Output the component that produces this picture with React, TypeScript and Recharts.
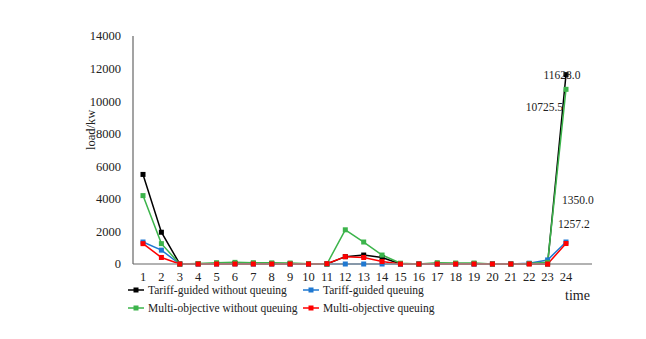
import React from 'react';
import { LineChart, Line, XAxis, YAxis, LabelList } from 'recharts';

const hours = ['1','2','3','4','5','6','7','8','9','10','11','12','13','14','15','16','17','18','19','20','21','22','23','24'];
const tariffNoQueue = [5500, 1950, 0, 10, 20, 30, 20, 20, 10, 0, 0, 450, 550, 400, 0, 0, 10, 10, 10, 0, 0, 20, 0, 11628.0];
const tariffQueue = [1350, 850, 0, 0, 0, 0, 0, 0, 0, 0, 0, 0, 0, 0, 0, 0, 0, 0, 0, 0, 0, 50, 250, 1350.0];
const multiNoQueue = [4200, 1250, 0, 30, 80, 100, 80, 70, 60, 20, 0, 2100, 1350, 550, 50, 0, 80, 60, 60, 0, 0, 30, 100, 10725.5];
const multiQueue = [1250, 400, 0, 0, 0, 0, 0, 0, 0, 0, 20, 450, 400, 150, 0, 0, 0, 0, 0, 0, 0, 0, 0, 1257.2];
const yTicks = [0, 2000, 4000, 6000, 8000, 10000, 12000, 14000];

const seriesNames = ['Tariff-guided without queuing', 'Tariff-guided queuing', 'Multi-objective without queuing', 'Multi-objective queuing'];
const colors = ['#000000', '#1f78d1', '#3cb44b', '#ff0000'];

const data = hours.map((h, i) => ({
  hour: h,
  a: tariffNoQueue[i],
  b: tariffQueue[i],
  c: multiNoQueue[i],
  d: multiQueue[i],
}));

const FONT = '"Liberation Serif", "Times New Roman", serif';

const squareDot = (color: string) => (props: any) => {
  const { cx, cy, index } = props;
  if (cx == null || cy == null) return <g key={index} />;
  return <rect key={index} x={cx - 2.5} y={cy - 2.5} width={5} height={5} fill={color} />;
};

const lastLabel = (dx: number, dy: number, anchor: string) => (props: any) => {
  const { x, y, value, index } = props;
  if (index !== 23) return null;
  return (
    <text x={x + dx} y={y + dy} textAnchor={anchor as any} fontFamily={FONT} fontSize={11.5} fill="#222">
      {Number(value).toFixed(1)}
    </text>
  );
};

const LegendItem = ({ color, name, left, top }: any) => (
  <div style={{ position: 'absolute', left, top, display: 'flex', alignItems: 'center', fontFamily: FONT, fontSize: 11.5, color: '#222', whiteSpace: 'nowrap' }}>
    <svg width={16} height={6} style={{ marginRight: 4 }}>
      <line x1={0} y1={3} x2={16} y2={3} stroke={color} strokeWidth={1.5} />
      <rect x={5.5} y={0.5} width={5} height={5} fill={color} />
    </svg>
    {name}
  </div>
);

export default function App() {
  return (
    <div style={{ position: 'absolute', left: 0, top: 0, width: 646, height: 339, background: '#fff' }}>
      <LineChart width={646} height={339} data={data} margin={{ top: 36, right: 54, bottom: 45, left: 83 }}>
        <XAxis
          dataKey="hour"
          tickLine={false}
          axisLine={{ stroke: '#999', strokeWidth: 1.5 }}
          padding={{ left: 10, right: 26 }}
          tick={{ fontFamily: FONT, fontSize: 12.5, fill: '#222' }}
          interval={0}
          tickMargin={2}
        />
        <YAxis
          domain={[0, 14000]}
          ticks={yTicks}
          width={50}
          tickLine={false}
          axisLine={{ stroke: '#666', strokeWidth: 1.2 }}
          tick={{ fontFamily: FONT, fontSize: 12.5, fill: '#222' }}
          tickMargin={6}
          label={{ value: 'load/kw', angle: -90, position: 'insideLeft', offset: 8, style: { fontFamily: FONT, fontSize: 12.5, fill: '#222' } }}
        />
        <Line type="linear" dataKey="a" stroke={colors[0]} strokeWidth={1.5} dot={squareDot(colors[0])} isAnimationActive={false}>
          <LabelList dataKey="a" content={lastLabel(-4, 4, 'middle')} />
        </Line>
        <Line type="linear" dataKey="b" stroke={colors[1]} strokeWidth={1.5} dot={squareDot(colors[1])} isAnimationActive={false}>
          <LabelList dataKey="b" content={lastLabel(-4, -38, 'start')} />
        </Line>
        <Line type="linear" dataKey="c" stroke={colors[2]} strokeWidth={1.5} dot={squareDot(colors[2])} isAnimationActive={false}>
          <LabelList dataKey="c" content={lastLabel(-3, 22, 'end')} />
        </Line>
        <Line type="linear" dataKey="d" stroke={colors[3]} strokeWidth={1.5} dot={squareDot(colors[3])} isAnimationActive={false}>
          <LabelList dataKey="d" content={lastLabel(-8, -16, 'start')} />
        </Line>
      </LineChart>
      <div style={{ position: 'absolute', left: 565, top: 288, fontFamily: FONT, fontSize: 14, color: '#222' }}>time</div>
      <LegendItem color={colors[0]} name={seriesNames[0]} left={128} top={284} />
      <LegendItem color={colors[1]} name={seriesNames[1]} left={303} top={284} />
      <LegendItem color={colors[2]} name={seriesNames[2]} left={128} top={302} />
      <LegendItem color={colors[3]} name={seriesNames[3]} left={303} top={302} />
    </div>
  );
}
